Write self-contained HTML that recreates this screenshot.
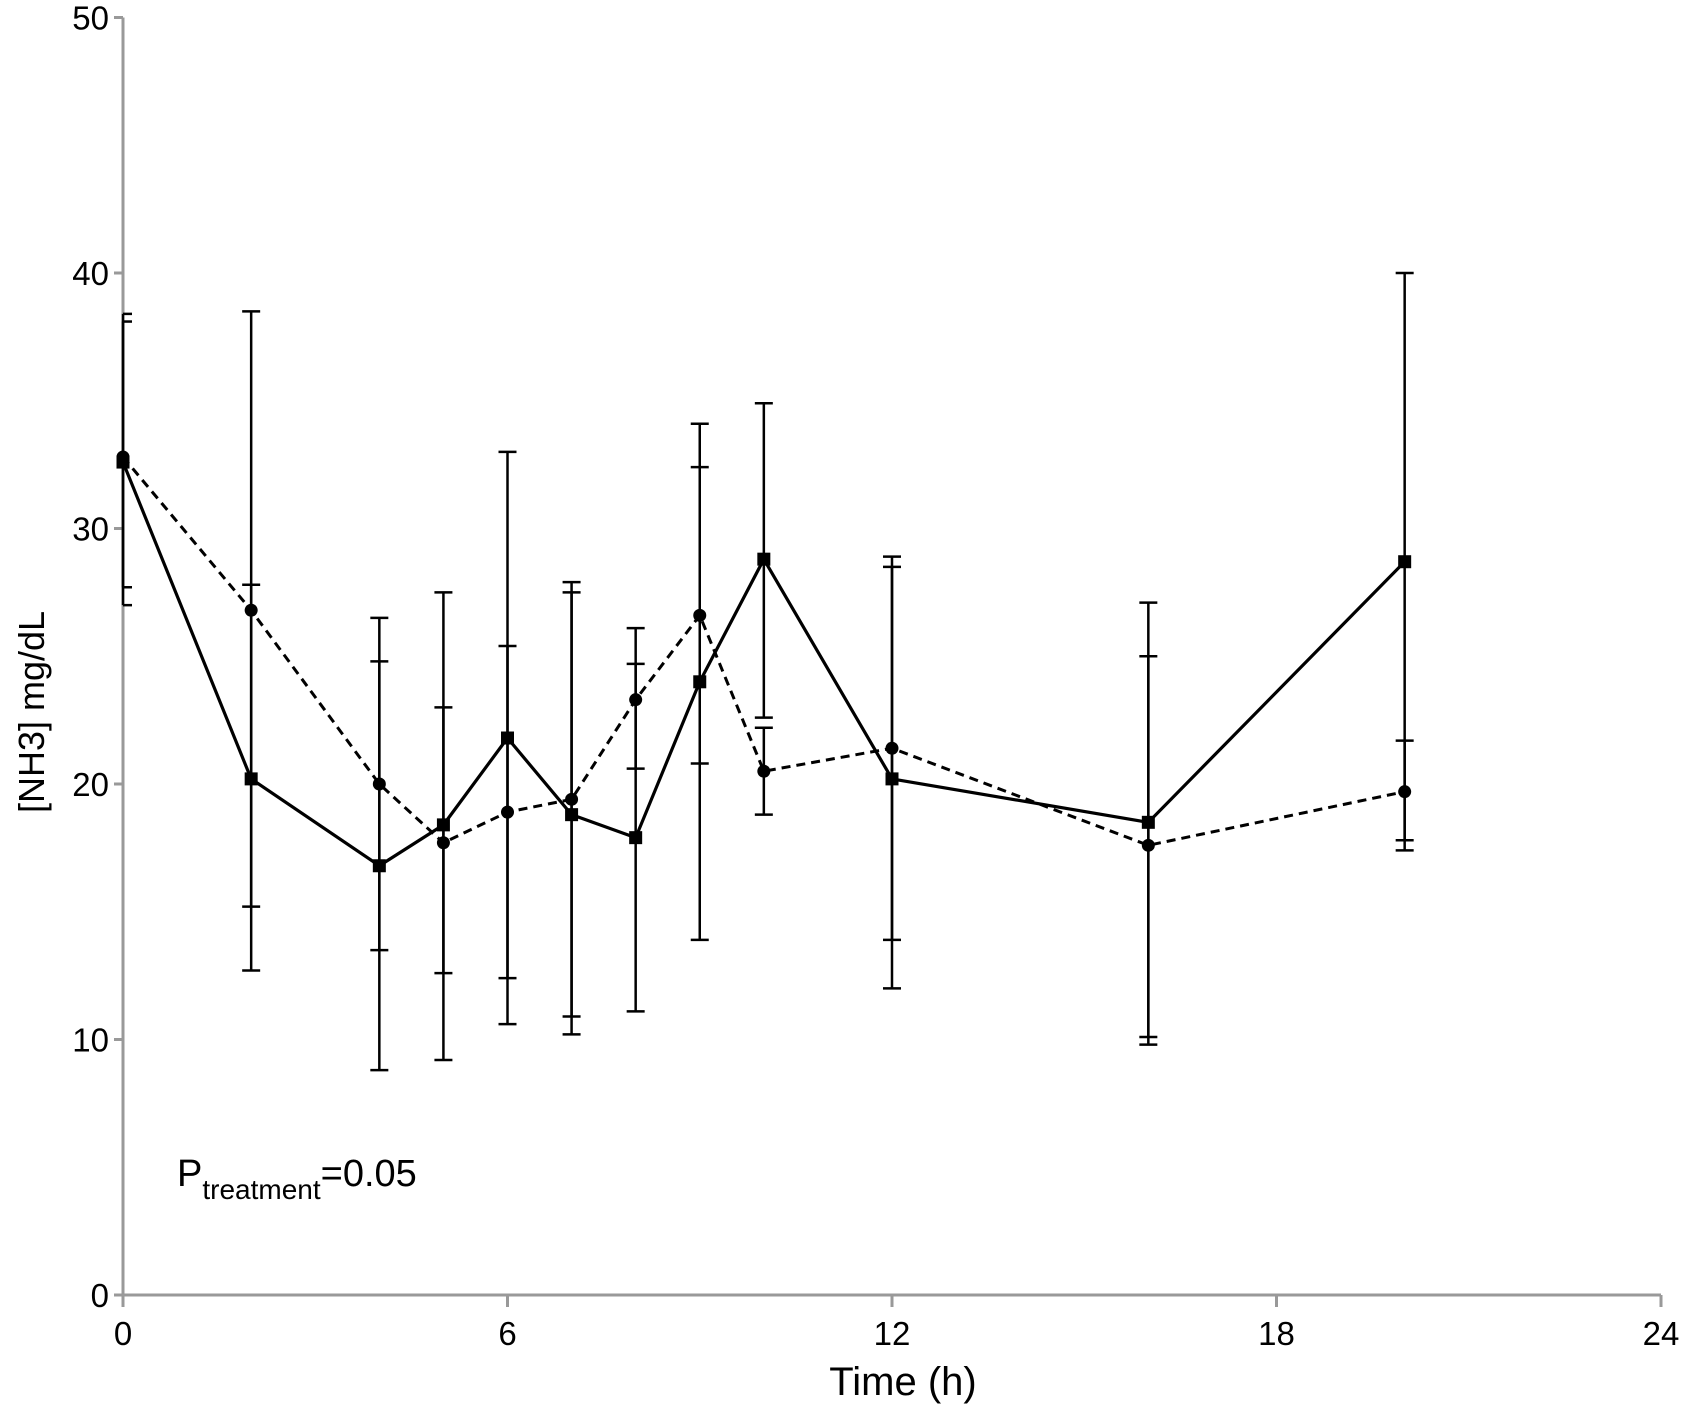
<!DOCTYPE html>
<html><head><meta charset="utf-8"><style>
body{margin:0;background:#fff}
svg{display:block;font-family:"Liberation Sans",Arial,sans-serif}
</style></head><body>
<svg id="chart" width="1685" height="1406" viewBox="0 0 1685 1406" xmlns="http://www.w3.org/2000/svg">
<g id="axes"></g>
<g id="series"></g>
<text transform="translate(44,712) rotate(-90)" text-anchor="middle" font-size="36">[NH3] mg/dL</text>
<text x="903" y="1395" text-anchor="middle" font-size="40">Time (h)</text>
<text x="177" y="1186" font-size="38">P<tspan font-size="28" dy="13">treatment</tspan><tspan dy="-13">=0.05</tspan></text>
</svg>
<script>
const times=[0,2,4,5,6,7,8,9,10,12,16,20];
const solidMean=[32.6,20.2,16.8,18.4,21.8,18.8,17.9,24.0,28.8,20.2,18.5,28.7];
const solidHigh=[38.4,38.5,24.8,27.5,33.0,27.5,24.7,34.1,34.9,28.5,25.0,40.0];
const solidLow=[27.0,12.7,8.8,9.2,10.6,10.2,11.1,13.9,22.6,12.0,9.8,17.4];
const dashMean=[32.8,26.8,20.0,17.7,18.9,19.4,23.3,26.6,20.5,21.4,17.6,19.7];
const dashHigh=[38.1,27.8,26.5,23.0,25.4,27.9,26.1,32.4,22.2,28.9,27.1,21.7];
const dashLow=[27.7,15.2,13.5,12.6,12.4,10.9,20.6,20.8,18.8,13.9,10.1,17.8];
const xTicks=[0,6,12,18,24];
const yTicks=[0,10,20,30,40,50];
const NS='http://www.w3.org/2000/svg';
const X0=123,X1=1661,Y0=1295,Y1=17.5;
const xs=v=>X0+(X1-X0)*v/24;
const ys=v=>Y0-(Y0-Y1)*v/50;
function mk(tag,attrs,parent){const e=document.createElementNS(NS,tag);for(const k in attrs)e.setAttribute(k,attrs[k]);parent.appendChild(e);return e;}
const ax=document.getElementById('axes'),sg=document.getElementById('series');
let e=mk('line',{x1:X0,y1:Y1,x2:X0,y2:Y0,stroke:'#999','stroke-width':3},ax);


e=mk('line',{x1:X0,y1:Y0,x2:X1,y2:Y0,stroke:'#999','stroke-width':3},ax);


yTicks.forEach(v=>{
 const t=mk('line',{x1:X0-9,y1:ys(v),x2:X0,y2:ys(v),stroke:'#999','stroke-width':3},ax);
 
 
 const l=mk('text',{x:X0-14,y:ys(v)+12,'text-anchor':'end','font-size':33},ax);l.textContent=v;
 
 
});
xTicks.forEach(v=>{
 const t=mk('line',{x1:xs(v),y1:Y0,x2:xs(v),y2:Y0+12,stroke:'#999','stroke-width':3},ax);
 
 
 const l=mk('text',{x:xs(v),y:Y0+50,'text-anchor':'middle','font-size':33},ax);l.textContent=v;
 
 
});
function errs(hi,lo,name){
 times.forEach((t,i)=>{
  const x=xs(t);
  const g=mk('g',{stroke:'#000','stroke-width':2.5},sg);
  
  
  mk('line',{x1:x,y1:ys(hi[i]),x2:x,y2:ys(lo[i])},g);
  const w=t===0?0:9;
  mk('line',{x1:x-w,y1:ys(hi[i]),x2:x+9,y2:ys(hi[i])},g);
  mk('line',{x1:x-w,y1:ys(lo[i]),x2:x+9,y2:ys(lo[i])},g);
 });
}
errs(solidHigh,solidLow,'solid-error-bar');
errs(dashHigh,dashLow,'dashed-error-bar');
const pts=m=>times.map((t,i)=>xs(t)+','+ys(m[i])).join(' ');
e=mk('polyline',{points:pts(dashMean),fill:'none',stroke:'#000','stroke-width':3,'stroke-dasharray':'9,6'},sg);


e=mk('polyline',{points:pts(solidMean),fill:'none',stroke:'#000','stroke-width':3.2},sg);


times.forEach((t,i)=>{
 const c=mk('circle',{cx:xs(t),cy:ys(dashMean[i]),r:6.5,fill:'#000'},sg);
 
 
 const s=mk('rect',{x:xs(t)-6.5,y:ys(solidMean[i])-6.5,width:13,height:13,fill:'#000'},sg);
 
 
});
</script>
</body></html>
